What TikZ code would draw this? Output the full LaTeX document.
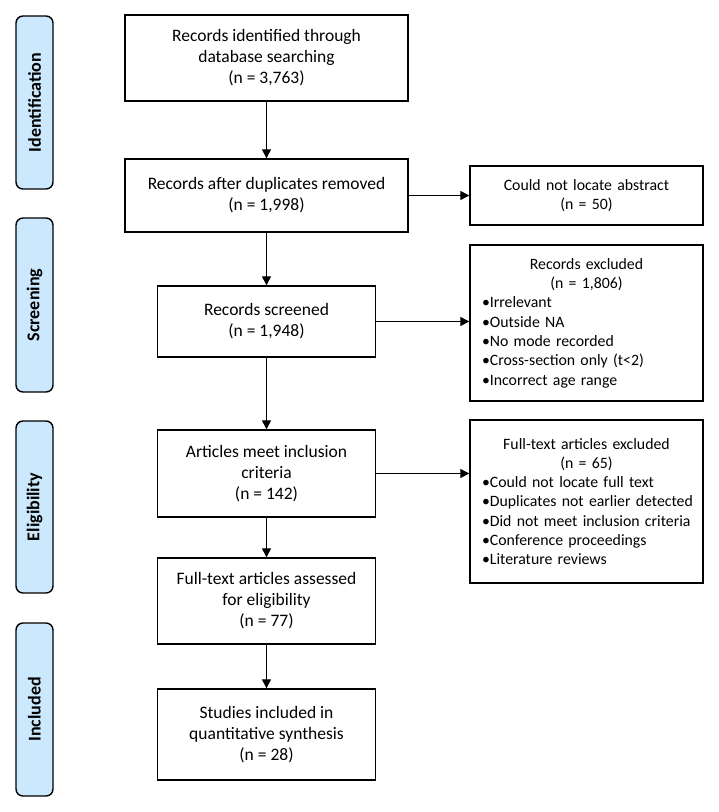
\documentclass[tikz,border=0pt]{standalone}
\usepackage{fontspec}
\setmainfont{Carlito}
\usetikzlibrary{arrows.meta}
\definecolor{phase}{RGB}{204,232,252}

\begin{document}
\begin{tikzpicture}[x=1pt,y=-1pt,
	box/.style={draw,line width=1.4pt,align=center,inner sep=0pt,font=\fontsize{17.5}{21}\selectfont},
	note/.style={draw,line width=1.4pt,minimum width=233pt,text width=221pt,inner sep=0pt,font=\fontsize{15.8}{19.3}\selectfont},
	side/.style={draw,line width=1.4pt,fill=phase,rounded corners=7pt,rotate=90,minimum height=37pt,inner sep=0pt,font=\fontsize{18}{22}\selectfont\bfseries},
	>={Triangle[length=9pt,width=9pt]}]
	\useasboundingbox (0,0) rectangle (719,812);
	\node[side,minimum width=173pt] (id) at (34.5,102.5) {Identification};
	\node[side,minimum width=174pt] (sc) at (34.5,305) {Screening};
	\node[side,minimum width=172pt] (el) at (34.5,507) {Eligibility};
	\node[side,minimum width=173pt] (in) at (34.5,709.5) {Included};
	\node[box,minimum width=283pt,minimum height=86pt] (a) at (266.5,58) {Records identified through\\database searching\\(n = 3,763)};
	\node[box,minimum width=283pt,minimum height=73pt] (b) at (266.5,195.5) {Records after duplicates removed\\(n = 1,998)};
	\node[note,align=center,minimum height=59pt] (b2) at (586.5,195.5) {Could not locate abstract\\(n = 50)};
	\node[box,minimum width=218pt,minimum height=71pt] (c) at (266.5,321.5) {Records screened\\(n = 1,948)};
	\node[note,minimum height=156pt] (c2) at (586.5,323) {\centering Records excluded\\(n = 1,806)\par\raggedright\leftskip=6pt •Irrelevant\\•Outside NA\\•No mode recorded\\•Cross-section only (t<2)\\•Incorrect age range\par};
	\node[box,minimum width=218pt,minimum height=87pt] (d) at (266.5,473.5) {Articles meet inclusion\\criteria\\(n = 142)};
	\node[note,minimum height=163pt] (d2) at (586.5,501.5) {\centering Full-text articles excluded\\(n = 65)\par\raggedright\leftskip=6pt •Could not locate full text\\•Duplicates not earlier detected\\•Did not meet inclusion criteria\\•Conference proceedings\\•Literature reviews\par};
	\node[box,minimum width=218pt,minimum height=86pt] (e) at (266.5,601) {Full-text articles assessed\\for eligibility\\(n = 77)};
	\node[box,minimum width=218pt,minimum height=91pt] (f) at (266.5,734.5) {Studies included in\\quantitative synthesis\\(n = 28)};
	\draw[->,line width=1.3pt] (a) to (b);
	\draw[->,line width=1.3pt] (b) to (b2);
	\draw[->,line width=1.3pt] (b) to (c);
	\draw[->,line width=1.3pt] (c) to (c -| c2.west);
	\draw[->,line width=1.3pt] (c) to (d);
	\draw[->,line width=1.3pt] (d) to (d -| d2.west);
	\draw[->,line width=1.3pt] (d) to (e);
	\draw[->,line width=1.3pt] (e) to (f);
\end{tikzpicture}
\end{document}
